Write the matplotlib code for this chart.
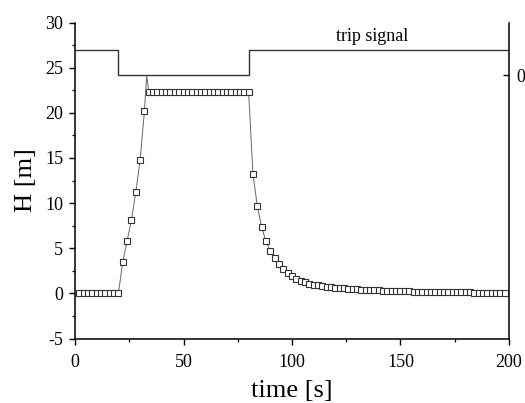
import matplotlib
matplotlib.use("Agg")
import matplotlib.pyplot as plt
from matplotlib.ticker import MultipleLocator

plt.rcParams['font.family'] = ['Liberation Serif', 'DejaVu Serif']
plt.rcParams['axes.unicode_minus'] = False

# Marker data: time [s] and water level H [m]
time_s = [2, 4, 6, 8, 10, 12, 14, 16, 18, 20,
          22, 24, 26, 28, 30, 32,
          34, 36, 38, 40, 42, 44, 46, 48, 50, 52, 54, 56, 58, 60,
          62, 64, 66, 68, 70, 72, 74, 76, 78, 80,
          82, 84, 86, 88, 90, 92, 94, 96, 98, 100,
          102, 104, 106, 108, 110, 112, 114, 116, 118, 120,
          122, 124, 126, 128, 130, 132, 134, 136, 138, 140,
          142, 144, 146, 148, 150, 152, 154, 156, 158, 160,
          162, 164, 166, 168, 170, 172, 174, 176, 178, 180,
          182, 184, 186, 188, 190, 192, 194, 196, 198]
H_m = [0, 0, 0, 0, 0, 0, 0, 0, 0, 0,
       3.5, 5.8, 8.15, 11.2, 14.75, 20.2,
       22.35, 22.35, 22.35, 22.35, 22.35, 22.35, 22.35, 22.35, 22.35, 22.35,
       22.35, 22.35, 22.35, 22.35, 22.35, 22.35, 22.35, 22.35, 22.35, 22.35,
       22.35, 22.35, 22.35, 22.35,
       13.2, 9.7, 7.35, 5.75, 4.72, 3.92, 3.25, 2.74, 2.26, 1.89,
       1.6, 1.38, 1.22, 1.08, 0.97, 0.88, 0.81, 0.75, 0.69, 0.64,
       0.59, 0.55, 0.51, 0.48, 0.45, 0.42, 0.40, 0.37, 0.35, 0.33,
       0.31, 0.29, 0.27, 0.25, 0.24, 0.22, 0.21, 0.20, 0.19, 0.18,
       0.17, 0.16, 0.15, 0.14, 0.13, 0.13, 0.12, 0.11, 0.11, 0.10,
       0.10, 0.09, 0.09, 0.08, 0.08, 0.08, 0.07, 0.07, 0.07]

# Solid curve (includes the brief overshoot peak near t=33 s)
line_t = [0, 2, 4, 6, 8, 10, 12, 14, 16, 18, 20,
          22, 24, 26, 28, 30, 32, 33, 34, 80,
          82, 84, 86, 88, 90, 92, 94, 96, 98, 100,
          104, 108, 112, 116, 120, 130, 140, 150, 160, 170, 180, 190, 200]
line_H = [0, 0, 0, 0, 0, 0, 0, 0, 0, 0, 0,
          3.5, 5.8, 8.15, 11.2, 14.75, 20.2, 24.1, 22.35, 22.35,
          13.2, 9.7, 7.35, 5.75, 4.72, 3.92, 3.25, 2.74, 2.26, 1.89,
          1.38, 1.08, 0.88, 0.75, 0.64, 0.45, 0.33, 0.24, 0.18, 0.13, 0.10, 0.08, 0.07]

# Trip signal (right axis, 0/1)
trip_t = [0, 20, 20, 80, 80, 200]
trip_v = [1, 1, 0, 0, 1, 1]

fig = plt.figure(figsize=(5.25, 4.03), dpi=100)
ax = fig.add_axes([0.1429, 0.160, 0.8266, 0.784])

ax.plot(line_t, line_H, color='#666666', lw=0.7, zorder=2)
ax.plot(time_s, H_m, ls='none', marker='s', markersize=4.6,
        markerfacecolor='white', markeredgecolor='#333333',
        markeredgewidth=0.8, zorder=3)

ax.set_xlim(0, 200)
ax.set_ylim(-5, 30)
ax.xaxis.set_major_locator(MultipleLocator(50))
ax.xaxis.set_minor_locator(MultipleLocator(25))
ax.yaxis.set_major_locator(MultipleLocator(5))
ax.yaxis.set_minor_locator(MultipleLocator(2.5))

for s in ['left', 'bottom', 'right']:
    ax.spines[s].set_linewidth(1.1)
ax.spines['top'].set_visible(False)
ax.spines['right'].set_visible(False)

ax.tick_params(axis='both', which='major', direction='out', length=4.5,
               width=1.0, labelsize=13)
ax.tick_params(axis='both', which='minor', direction='out', length=2.5, width=0.9)
ax.tick_params(axis='x', which='major', pad=7)
ax.tick_params(axis='y', which='major', pad=4)

ax.set_xlabel('time [s]', fontsize=19, labelpad=6)
ax.set_ylabel('H [m]', fontsize=19, labelpad=6)

ax2 = ax.twinx()
ax2.plot(trip_t, trip_v, color='#333333', lw=1.0)
lo, hi = 24.15, 27.0
scale = hi - lo
ax2.set_ylim((-5 - lo) / scale, (30 - lo) / scale)
ax2.set_yticks([0])
ax2.set_yticklabels(['0'])
ax2.tick_params(axis='y', direction='in', length=4.5, width=1.0, labelsize=13, pad=5)
ax2.spines['top'].set_visible(False)
ax2.spines['left'].set_visible(False)
ax2.spines['bottom'].set_visible(False)
ax2.spines['right'].set_linewidth(1.1)

ax.text(137, 28.0, 'trip signal', fontsize=13, ha='center', va='baseline')

fig.savefig('out.png', dpi=100)
